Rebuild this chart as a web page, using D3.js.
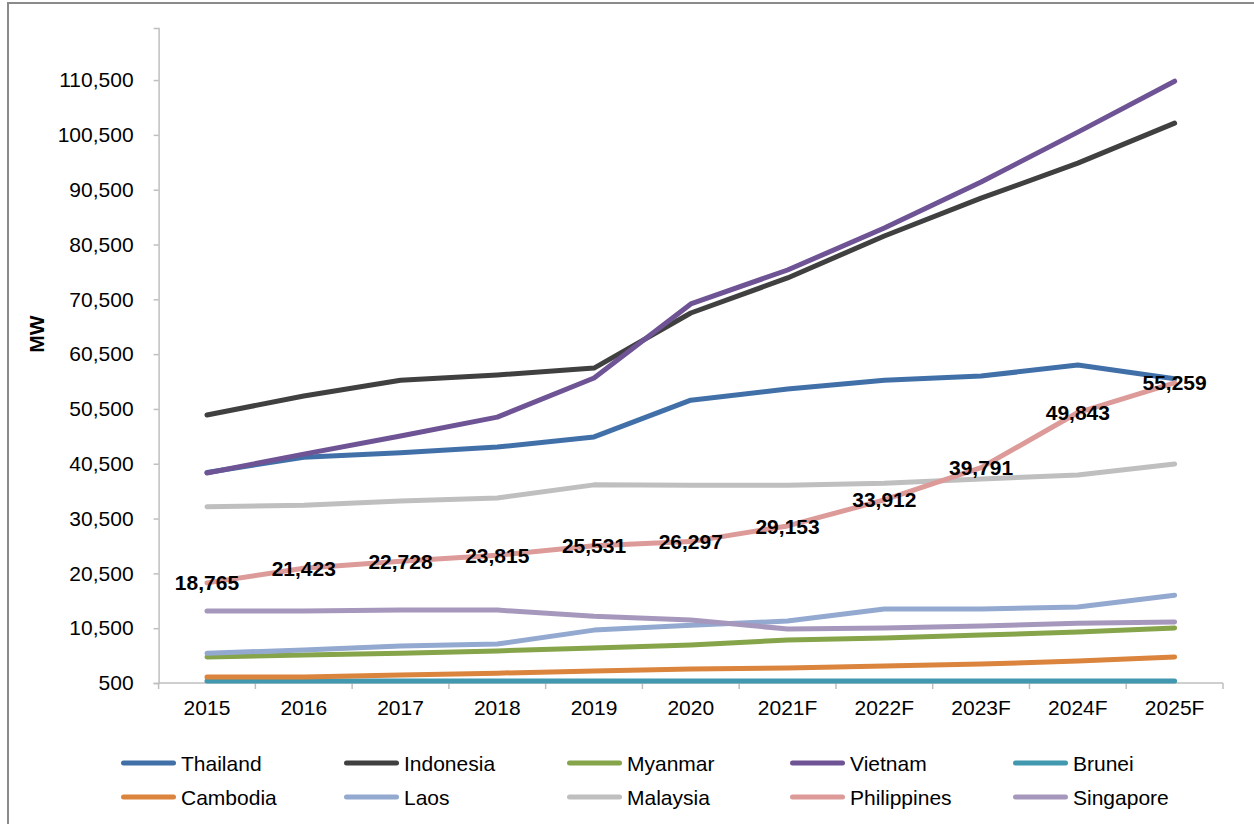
<!DOCTYPE html>
<html>
<head>
<meta charset="utf-8">
<script src="https://cdn.jsdelivr.net/npm/d3@7"></script>
<style>
  html, body { margin: 0; padding: 0; background: #fff; }
  svg { display: block; }
  text { font-family: "Liberation Sans", Arial, sans-serif; }
</style>
</head>
<body>
<svg id="chart" width="1254" height="824"></svg>
<script>
const years = ["2015","2016","2017","2018","2019","2020","2021F","2022F","2023F","2024F","2025F"];
const yTicks = [500,10500,20500,30500,40500,50500,60500,70500,80500,90500,100500,110500];

const thailand    = [38900,41700,42500,43550,45400,52100,54150,55750,56500,58500,56000];
const indonesia   = [49400,52850,55750,56700,57950,68000,74400,82050,88950,95350,102650];
const myanmar     = [5250,5600,5950,6350,6900,7450,8350,8700,9250,9800,10550];
const vietnam     = [38800,42250,45550,49000,56150,69650,75850,83500,91900,101000,110300];
const brunei      = [850,850,850,850,850,850,850,850,850,850,850];
const cambodia    = [1600,1600,1950,2300,2700,3050,3250,3600,3950,4500,5250];
const laos        = [5950,6500,7250,7600,10150,11050,11800,14000,14000,14350,16500];
const malaysia    = [32650,32950,33700,34250,36650,36600,36600,36950,37700,38450,40450];
const philippines = [18765,21423,22728,23815,25531,26297,29153,33912,39791,49843,55259];
const singapore   = [13650,13650,13800,13800,12700,12000,10350,10550,10900,11400,11650];

const seriesNames = ["Thailand","Indonesia","Myanmar","Vietnam","Brunei","Cambodia","Laos","Malaysia","Philippines","Singapore"];
const seriesValues = [thailand,indonesia,myanmar,vietnam,brunei,cambodia,laos,malaysia,philippines,singapore];
const seriesColors = ["#4170A8","#404040","#86A44A","#6E5495","#4198AF","#DB843D","#93A9D0","#BFBFBF","#DC9A98","#A698BD"];
const labelledSeries = "Philippines";

const svg = d3.select("#chart");

// outer frame
svg.append("rect").attr("x", 8).attr("y", 3).attr("width", 1300).attr("height", 900)
  .attr("fill", "none").attr("stroke", "#8a8a8a").attr("stroke-width", 2);

const x = d3.scalePoint().domain(years).range([158.6, 1223]).padding(0.5);
const y = d3.scaleLinear().domain([500, 120000]).range([683, 28]);
const fmt = d3.format(",");

// y axis
const yAxis = svg.append("g").attr("transform", "translate(158.6,0)")
  .call(d3.axisLeft(y).tickValues(yTicks).tickSize(5).tickPadding(20).tickFormat(fmt));
yAxis.select(".domain").attr("stroke", "#BFBFBF").attr("stroke-width", 1.5);
yAxis.selectAll(".tick line").attr("stroke", "#BFBFBF").attr("stroke-width", 1.5);
yAxis.selectAll(".tick text").attr("font-size", 21).attr("fill", "#000")
  .attr("font-family", "Liberation Sans, Arial, sans-serif");

// x axis
const step = x.step();
const xAxisG = svg.append("g").attr("transform", "translate(0,683)");
xAxisG.append("line").attr("x1", 158.6).attr("x2", 1223).attr("y1", 0).attr("y2", 0)
  .attr("stroke", "#BFBFBF").attr("stroke-width", 1.5);
const boundaries = [x(years[0]) - step/2].concat(years.map(d => x(d) + step/2));
xAxisG.selectAll("line.tk").data(boundaries).enter().append("line").attr("class","tk")
  .attr("x1", d => d).attr("x2", d => d).attr("y1", 0).attr("y2", 6)
  .attr("stroke", "#BFBFBF").attr("stroke-width", 1.5);
xAxisG.selectAll("text").data(years).enter().append("text")
  .attr("x", d => x(d)).attr("y", 32).attr("text-anchor", "middle")
  .attr("font-size", 21).attr("fill", "#000").text(d => d);

// y axis title
svg.append("text").attr("transform", "translate(44,334) rotate(-90)")
  .attr("text-anchor", "middle").attr("font-size", 21).attr("font-weight", "bold")
  .attr("fill", "#000").text("MW");

// lines
const line = d3.line().x((d, i) => x(years[i])).y(d => y(d));
seriesNames.forEach((name, k) => {
  svg.append("path").datum(seriesValues[k])
    .attr("d", line).attr("fill", "none")
    .attr("stroke", seriesColors[k]).attr("stroke-width", 5)
    .attr("stroke-linejoin", "round").attr("stroke-linecap", "round");
});

// data labels for Philippines
const li = seriesNames.indexOf(labelledSeries);
svg.append("g").selectAll("text").data(seriesValues[li]).enter().append("text")
  .attr("x", (d, i) => x(years[i])).attr("y", d => y(d))
  .attr("dy", "0.36em").attr("text-anchor", "middle")
  .attr("font-size", 21).attr("font-weight", "bold").attr("fill", "#000")
  .text(d => fmt(d));

// legend
const legendCols = [121, 344, 567, 790, 1013];
const legendRows = [763, 797];
seriesNames.forEach((name, k) => {
  const col = k % 5, row = Math.floor(k / 5);
  const lx = legendCols[col], ly = legendRows[row];
  svg.append("line").attr("x1", lx + 2.5).attr("x2", lx + 52.5).attr("y1", ly).attr("y2", ly)
    .attr("stroke", seriesColors[k]).attr("stroke-width", 5).attr("stroke-linecap", "round");
  svg.append("text").attr("x", lx + 60).attr("y", ly).attr("dy", "0.36em")
    .attr("font-size", 21).attr("fill", "#000").text(name);
});
</script>
</body>
</html>
